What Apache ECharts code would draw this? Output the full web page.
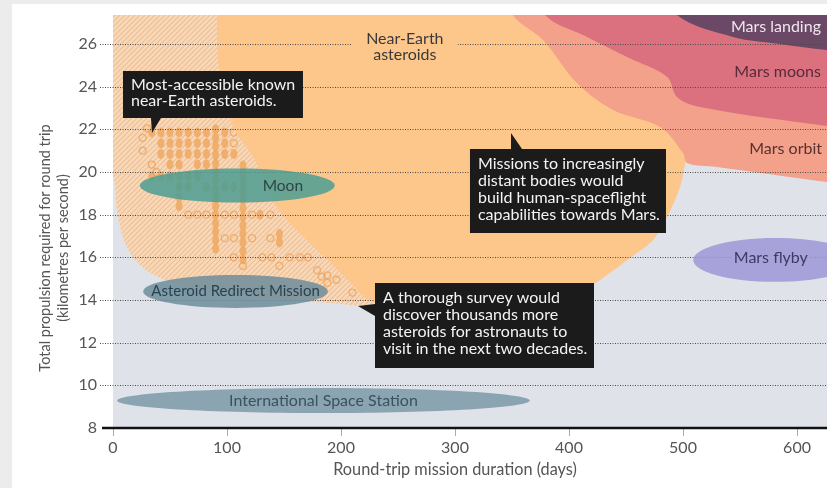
<!DOCTYPE html>
<html><head><meta charset="utf-8">
<script src="https://cdn.jsdelivr.net/npm/echarts@6/dist/echarts.min.js"></script>
<style>
html,body{margin:0;padding:0;background:#ececec;overflow:hidden;}
#panel{position:absolute;left:12px;top:4px;right:0;bottom:0;background:#fff;}
#c{position:absolute;left:0;top:0;width:827px;height:488px;}
</style>
</head><body><div id="panel"></div><div id="c"></div>
<script>
// ---------- DATA ----------
const xTicks = [0, 100, 200, 300, 400, 500, 600];
const yTicks = [8, 10, 12, 14, 16, 18, 20, 22, 24, 26];
const xMax = 626.3, yMin = 8, yMax = 27.36;

// region boundaries [days, km/s]
const hatchRegion = [[-10,28.5],[-10,20.6],[0,19.86],[3.5,18.22],[9.6,16.81],[21,15.78],[41,15.03],[76,14.47],[129,14.1],[190,13.86],[228,13.81],[250,14.6],[250,28.5]];
const neaRegion = [[91,28.5],[91.2,27.36],[92.1,25.25],[98.2,23.38],[107,21.97],[124.6,20.56],[139.5,18.69],[155.3,17.61],[172.8,16.67],[190.4,15.78],[207.9,14.84],[228,13.91],[269,14.0],[339.5,14.24],[392,14.47],[415.8,14.61],[427.2,14.94],[453.5,15.97],[473.7,16.81],[486,17.89],[497.4,19.3],[501.8,20.42],[506,21.97],[515,28.5]];
const marsOrbitRegion = [[350.5,28.5],[350.9,27.36],[377.2,26.19],[407,24.17],[438.6,22.91],[479.8,22.11],[500,20.89],[503.5,20.42],[529.8,20.24],[626.3,19.53],[660,19.3],[660,28.5]];
const marsMoonsRegion = [[378.5,28.5],[379,27.36],[415.8,26.33],[450.9,25.39],[486,24.46],[494.7,23.52],[514.9,23.05],[626.3,22.16],[660,22.0],[660,28.5]];
const marsLandingRegion = [[494,28.5],[494.7,27.36],[543.9,26.33],[585,26.0],[626.3,25.72],[660,25.6],[660,28.5]];

// ellipses
const ellipseNames = ['Moon', 'Asteroid Redirect Mission', 'International Space Station', 'Mars flyby'];
const ellipseCenterDays = [109, 107.5, 184.6, 581];
const ellipseCenterKms = [19.37, 14.40, 9.29, 15.88];
const ellipseRadiusDays = [85.5, 81, 181, 72];
const ellipseRadiusKms = [0.80, 0.77, 0.59, 1.03];
const ellipseLabelDays = [149, 107.5, 184.6, 577];
const ellipseLabelKms = [19.35, 14.42, 9.27, 15.97];

// asteroids [days, km/s]
const asteroidsFilled = [
 [34,21.85],[42,21.85],[50,21.85],[58,21.85],[66,21.85],[74,21.85],[82,21.85],[98,21.85],
 [42,21.35],[50,21.35],[58,21.35],[66,21.35],[74,21.35],[82,21.35],[98,21.35],
 [42,20.85],[50,20.85],[58,20.85],[66,20.85],[74,20.85],[82,20.85],[98,20.85],[106,20.85],
 [50,20.35],[58,20.35],[74,20.35],[82,20.35],
 [34,19.8],[42,19.8],[50,19.8],[58,19.8],[66,19.8],[74,19.8],
 [58,19.3],[66,19.3],[82,19.3],[98,19.3],[106,19.3],
 [58,18.8],[58,18.4],
 [90,22.0],[90,21.6],[90,21.2],[90,20.8],[90,20.4],[90,20.0],[90,19.6],[90,19.2],[90,18.8],[90,18.4],[90,18.0],[90,17.6],[90,17.2],[90,16.8],[90,16.4],
 [114,20.3],[114,19.9],[114,19.5],[114,19.1],[114,18.7],[114,18.3],[114,17.9],[114,17.5],[114,17.1],[114,16.7],[114,16.3],[114,15.9],
 [146,17.1],[146,16.7],[129,18.0]
];
const asteroidsHollow = [
 [26,21.6],[26,21.0],[30,22.05],[34,20.35],[38,20.0],[106,21.85],[106,21.35],[114,21.85],
 [66,18.0],[74,18.0],[82,18.0],[98,18.0],[106,18.0],[122,18.0],[138,18.0],
 [98,16.9],[106,16.9],[122,16.9],[138,16.9],
 [106,16.0],[131,16.0],[139,16.0],[155,16.0],[164,16.0],[171,16.0],
 [146,15.6],[114,15.6],
 [179,15.4],[188,15.15],[196,14.95],[188,14.8],[183,15.1],[210,14.35]
];

// region labels
const regionLabels = ['Near-Earth\nasteroids', 'Mars landing', 'Mars moons', 'Mars orbit'];
const regionLabelDays = [256, 581.5, 583, 590];
const regionLabelKms = [25.86, 26.8, 24.69, 21.08];

// notes
const noteTexts = [
 'Most-accessible known\nnear-Earth asteroids.',
 'Missions to increasingly\ndistant bodies would\nbuild human-spaceflight\ncapabilities towards Mars.',
 'A thorough survey would\ndiscover thousands more\nasteroids for astronauts to\nvisit in the next two decades.'
];
const noteTipDays = [34.2, 349.1, 214.9];
const noteTipKms = [21.83, 21.83, 13.72];

// ---------- STYLE ----------
const FONT = 'Lato, "Open Sans", sans-serif';
const regionColors = ['#fdc68a', '#f3a18a', '#db717f', '#6b4865'];
const ellipseColors = ['#4c9d93', '#6d8d9b', '#7d99a7', '#9e97d6'];
const ellipseLabelBg = [null, null, null, '#a8a2d9'];
const ellipseTextColors = ['#2c4646', '#2a4250', '#38525f', '#3c3a66'];
const regionLabelColors = ['#3a3a3a', '#f0e6ee', '#5a2a38', '#5a3030'];
const regionLabelBg = ['#fdc68a', null, null, null];
// note box layout relative to tip (px): dx, dy, w, h
const noteBox = [[-29,-62,180,47],[-41,16,196,84],[17,-23,219,85]];

// hatch pattern
const pc = document.createElement('canvas');
pc.width = 5; pc.height = 5;
const g = pc.getContext('2d');
g.fillStyle = '#f8d8b8'; g.fillRect(0,0,5,5);
g.strokeStyle = '#ecbf95'; g.lineWidth = 1.1;
g.beginPath();
g.moveTo(-1,6); g.lineTo(6,-1);
g.moveTo(-1,1); g.lineTo(1,-1);
g.moveTo(4,6); g.lineTo(6,4);
g.stroke();
const hatchFill = {image: pc, repeat: 'repeat'};

function regionSeries(points, fill, z) {
  return {
    type: 'custom', coordinateSystem: 'cartesian2d', clip: true, z: z, silent: true,
    data: [[points[1][0], points[1][1]]],
    renderItem: function (params, api) {
      return {type: 'polygon', shape: {points: points.map(p => api.coord(p)), smooth: 0.35}, style: {fill: fill}};
    }
  };
}
function txt(text, fill, size, align, vAlign, extra) {
  const s = {text: text, fill: fill, font: size + 'px ' + FONT, textAlign: align, textVerticalAlign: vAlign, align: align, verticalAlign: vAlign};
  return Object.assign(s, extra || {});
}

const chart = echarts.init(document.getElementById('c'));
chart.setOption({
  animation: false,
  grid: {left: 113, right: 0, top: 15, bottom: 60, show: true, backgroundColor: '#dfe3e9', borderWidth: 0},
  xAxis: {
    type: 'value', min: 0, max: xMax, interval: 100,
    axisLine: {show: false},
    axisTick: {show: true, length: 8, lineStyle: {color: '#aaa', width: 1}},
    splitLine: {show: false},
    axisLabel: {color: '#555', fontSize: 16, fontFamily: FONT, margin: 12, showMaxLabel: false,
      formatter: v => xTicks.indexOf(v) >= 0 ? String(v) : ''},
    name: 'Round-trip mission duration (days)', nameLocation: 'middle', nameGap: 34,
    nameTextStyle: {color: '#555', fontSize: 16.3, fontFamily: FONT, padding: [0, 30, 0, 0]}
  },
  yAxis: {
    type: 'value', min: yMin, max: yMax, interval: 2,
    axisLine: {show: false}, axisTick: {show: false}, splitLine: {show: false},
    axisLabel: {color: '#555', fontSize: 16, fontFamily: FONT, margin: 16, showMaxLabel: false,
      formatter: v => yTicks.indexOf(v) >= 0 ? String(v) : ''}
  },
  graphic: [
    {type: 'text', x: 45, y: 248, rotation: Math.PI / 2, silent: true,
      style: txt('Total propulsion required for round trip', '#555', 14.5, 'center', 'middle')},
    {type: 'text', x: 63, y: 248, rotation: Math.PI / 2, silent: true,
      style: txt('(kilometres per second)', '#555', 14.5, 'center', 'middle')}
  ],
  series: [
    regionSeries(hatchRegion, hatchFill, 2),
    {type: 'scatter', z: 3, silent: true, symbol: 'circle', symbolSize: [7, 10],
      itemStyle: {color: '#f0a862', opacity: 0.85}, data: asteroidsFilled},
    {type: 'scatter', z: 3, silent: true, symbol: 'circle', symbolSize: 7,
      itemStyle: {color: 'rgba(0,0,0,0)', borderColor: '#efa25a', borderWidth: 1.3}, data: asteroidsHollow},
    regionSeries(neaRegion, regionColors[0], 4),
    regionSeries(marsOrbitRegion, regionColors[1], 5),
    regionSeries(marsMoonsRegion, regionColors[2], 6),
    regionSeries(marsLandingRegion, regionColors[3], 7),
    { // dotted grid lines
      type: 'custom', coordinateSystem: 'cartesian2d', clip: false, z: 10, silent: true,
      data: yTicks.filter(v => v > yMin).map(v => [0, v]),
      renderItem: function (params, api) {
        const p = api.coord([0, api.value(1)]);
        const y = Math.round(p[1]) + 0.5;
        const right = params.coordSys.x + params.coordSys.width;
        return {type: 'line', shape: {x1: p[0] - 13, y1: y, x2: right, y2: y}, style: {stroke: '#4a4a4a', lineWidth: 1, lineDash: [1, 1.5]}};
      }
    },
    { // x axis baseline
      type: 'custom', coordinateSystem: 'cartesian2d', clip: false, z: 30, silent: true,
      data: [[0, yMin]],
      renderItem: function (params, api) {
        const p = api.coord([0, yMin]);
        const right = params.coordSys.x + params.coordSys.width;
        return {type: 'line', shape: {x1: p[0] - 11, y1: p[1], x2: right, y2: p[1]}, style: {stroke: '#111', lineWidth: 2.5}};
      }
    },
    { // ellipses
      type: 'custom', coordinateSystem: 'cartesian2d', clip: true, z: 20, silent: true,
      data: ellipseNames.map((n, i) => [ellipseCenterDays[i], ellipseCenterKms[i], ellipseRadiusDays[i], ellipseRadiusKms[i], ellipseLabelDays[i], ellipseLabelKms[i]]),
      renderItem: function (params, api) {
        const i = params.dataIndex;
        const c = api.coord([api.value(0), api.value(1)]);
        const s = api.size([api.value(2), api.value(3)]);
        const l = api.coord([api.value(4), api.value(5)]);
        const extra = ellipseLabelBg[i] ? {backgroundColor: ellipseLabelBg[i], padding: [0, 2]} : {};
        return {type: 'group', children: [
          {type: 'ellipse', shape: {cx: c[0], cy: c[1], rx: s[0], ry: s[1]}, style: {fill: ellipseColors[i], opacity: 0.85}},
          {type: 'text', x: l[0], y: l[1], style: txt(ellipseNames[i], ellipseTextColors[i], i === 0 ? 15.5 : (i === 1 ? 15 : 16), 'center', 'middle', extra)}
        ]};
      }
    },
    { // region labels
      type: 'custom', coordinateSystem: 'cartesian2d', clip: false, z: 25, silent: true,
      data: regionLabels.map((t, i) => [regionLabelDays[i], regionLabelKms[i]]),
      renderItem: function (params, api) {
        const i = params.dataIndex;
        const p = api.coord([api.value(0), api.value(1)]);
        const extra = {lineHeight: 16};
        if (regionLabelBg[i]) { extra.backgroundColor = regionLabelBg[i]; extra.padding = [0, 14]; }
        return {type: 'text', x: p[0], y: p[1], style: txt(regionLabels[i], regionLabelColors[i], 16, 'center', 'middle', extra)};
      }
    },
    { // notes
      type: 'custom', coordinateSystem: 'cartesian2d', clip: false, z: 40, silent: true,
      data: noteTexts.map((t, i) => [noteTipDays[i], noteTipKms[i]]),
      renderItem: function (params, api) {
        const i = params.dataIndex;
        const tip = api.coord([api.value(0), api.value(1)]);
        const b = noteBox[i];
        const bx = tip[0] + b[0], by = tip[1] + b[1];
        let ptr;
        if (i === 0) ptr = [[tip[0], tip[1]], [tip[0] - 1, by + b[3]], [tip[0] + 9, by + b[3]]];
        else if (i === 1) ptr = [[tip[0], tip[1]], [tip[0], by], [tip[0] + 11, by]];
        else ptr = [[tip[0], tip[1]], [bx, tip[1] - 2], [bx, tip[1] + 10]];
        return {type: 'group', children: [
          {type: 'polygon', shape: {points: ptr}, style: {fill: '#1b1b1b'}},
          {type: 'rect', shape: {x: bx, y: by, width: b[2], height: b[3]}, style: {fill: '#1b1b1b'}},
          {type: 'text', x: bx + 8, y: by + 6, style: txt(noteTexts[i], '#f4f4f4', 16, 'left', 'top', {lineHeight: i === 0 ? 16 : 17})}
        ]};
      }
    }
  ]
});
</script>
</body></html>
